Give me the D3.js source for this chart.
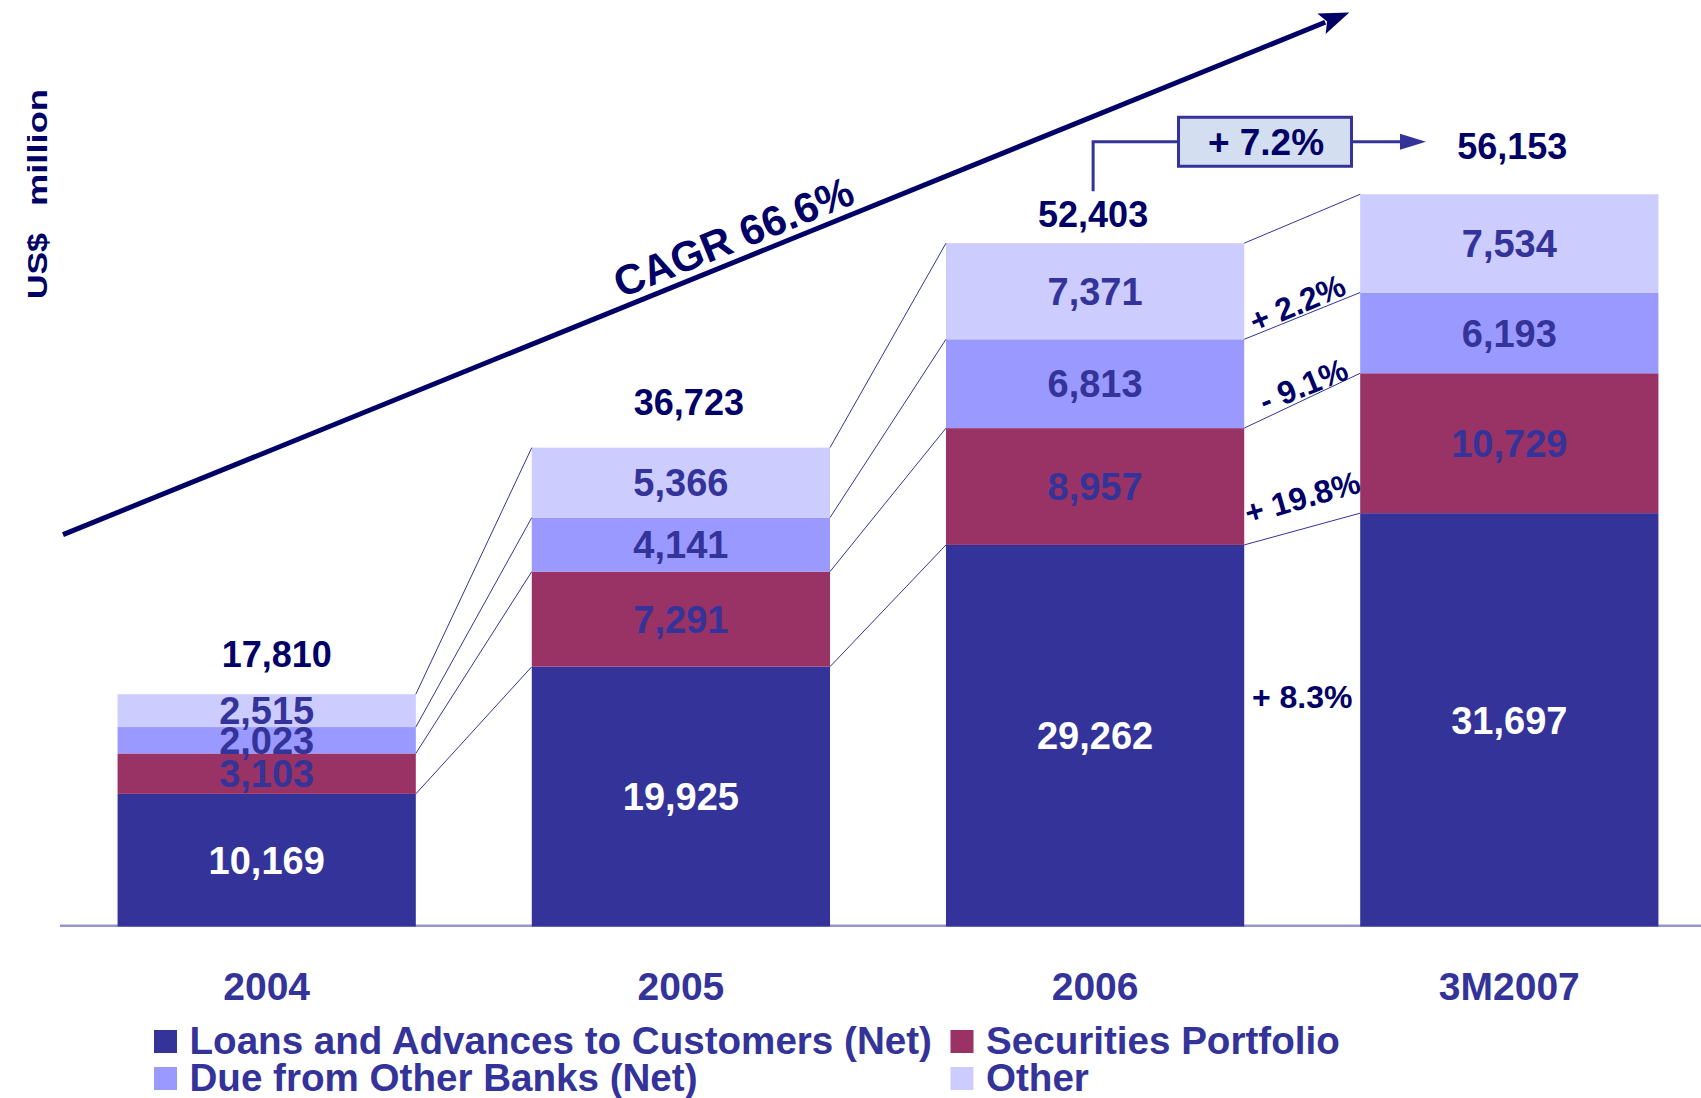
<!DOCTYPE html>
<html>
<head>
<meta charset="utf-8">
<script src="https://cdn.jsdelivr.net/npm/d3@7"></script>
<style>
  html, body { margin: 0; padding: 0; background: #ffffff; }
  svg { display: block; }
  text { font-family: "Liberation Sans", Arial, sans-serif; font-weight: bold; }
</style>
</head>
<body>
<svg id="chart" width="1701" height="1098"></svg>
<script>
// ---- data (US$ million) ----
const categories   = ["2004", "2005", "2006", "3M2007"];
const loans        = [10169, 19925, 29262, 31697];
const securities   = [3103, 7291, 8957, 10729];
const dueFromBanks = [2023, 4141, 6813, 6193];
const other        = [2515, 5366, 7371, 7534];
const totals       = [17810, 36723, 52403, 56153];

const seriesNames  = ["Loans and Advances to Customers (Net)", "Securities Portfolio",
                      "Due from Other Banks (Net)", "Other"];
// change of each component from 2006 to 3M2007, bottom to top
const componentGrowth = ["+ 8.3%", "+ 19.8%", "- 9.1%", "+ 2.2%"];
const totalGrowth  = "+ 7.2%";
const cagrLabel    = "CAGR 66.6%";
const yAxisWords   = ["US$", "million"];

// ---- styling ----
const fills      = ["#333399", "#993366", "#9999FF", "#CCCCFF"];
const labelFills = ["#ffffff", "#333399", "#333399", "#333399"];
const navy = "#000066";
const blue = "#333399";

const svg = d3.select("#chart");
const W = 1701;

const x = d3.scaleBand()
  .domain(categories)
  .range([60, 1716])
  .paddingInner(0.28)
  .paddingOuter(0.139);

const y = d3.scaleLinear()
  .domain([0, 60000])
  .range([926.5, 144.1]);

// stacked layout
const rows = categories.map((c, i) => ({
  cat: c, loans: loans[i], securities: securities[i],
  due: dueFromBanks[i], other: other[i]
}));
const keys = ["loans", "securities", "due", "other"];
const stacked = d3.stack().keys(keys)(rows);

// baseline
svg.append("line")
  .attr("x1", 60).attr("x2", W)
  .attr("y1", y(0) - 0.8).attr("y2", y(0) - 0.8)
  .attr("stroke", "#9696cc").attr("stroke-width", 2.6);

// bars
const layers = svg.append("g").selectAll("g")
  .data(stacked).join("g")
  .attr("fill", (d, i) => fills[i]);

layers.selectAll("rect")
  .data(d => d).join("rect")
  .attr("x", d => x(d.data.cat))
  .attr("y", d => y(d[1]))
  .attr("width", x.bandwidth())
  .attr("height", d => y(d[0]) - y(d[1]));

// connector lines between neighbouring bars at each segment top
const conn = svg.append("g").attr("stroke", blue).attr("stroke-width", 1).attr("fill", "none");
stacked.forEach(layer => {
  for (let i = 0; i < categories.length - 1; i++) {
    conn.append("line")
      .attr("x1", x(categories[i]) + x.bandwidth())
      .attr("y1", y(layer[i][1]))
      .attr("x2", x(categories[i + 1]))
      .attr("y2", y(layer[i + 1][1]));
  }
});

// segment value labels
const fmt = d3.format(",");
stacked.forEach((layer, k) => {
  svg.append("g").selectAll("text")
    .data(layer).join("text")
    .attr("x", d => x(d.data.cat) + x.bandwidth() / 2)
    .attr("y", d => (y(d[0]) + y(d[1])) / 2)
    .attr("dy", "0.36em")
    .attr("text-anchor", "middle")
    .attr("font-size", 38)
    .attr("fill", labelFills[k])
    .text(d => fmt(d[1] - d[0]));
});

// totals above the bars
const totalOffset = [[10, -27], [8, -33], [-2, -16], [3, -35]];
svg.append("g").selectAll("text")
  .data(totals).join("text")
  .attr("x", (d, i) => x(categories[i]) + x.bandwidth() / 2 + totalOffset[i][0])
  .attr("y", (d, i) => y(d) + totalOffset[i][1])
  .attr("text-anchor", "middle")
  .attr("font-size", 36)
  .attr("fill", navy)
  .text(d => fmt(d));

// category labels
svg.append("g").selectAll("text")
  .data(categories).join("text")
  .attr("x", d => x(d) + x.bandwidth() / 2)
  .attr("y", 999.5)
  .attr("text-anchor", "middle")
  .attr("font-size", 39)
  .attr("fill", blue)
  .text(d => d);

// component growth labels between 2006 and 3M2007
const iA = 2, iB = 3;
const gapX = (x(categories[iA]) + x.bandwidth() + x(categories[iB])) / 2;
const growthAngle = [0, -16, -22, -23];
const growthShift = [-31, -32, -16, -13];
const growthDx = [0, 0, 1, -5];
componentGrowth.forEach((g, k) => {
  let cy;
  if (k === 0) {
    const a = (y(stacked[0][iA][0]) + y(stacked[0][iA][1])) / 2;
    const b = (y(stacked[0][iB][0]) + y(stacked[0][iB][1])) / 2;
    cy = (a + b) / 2;
  } else {
    cy = (y(stacked[k - 1][iA][1]) + y(stacked[k - 1][iB][1])) / 2;
  }
  cy += growthShift[k];
  svg.append("text")
    .attr("transform", `translate(${gapX + growthDx[k]},${cy}) rotate(${growthAngle[k]})`)
    .attr("text-anchor", "middle")
    .attr("dy", "0.36em")
    .attr("font-size", 32)
    .attr("fill", navy)
    .style("white-space", "pre")
    .text(g);
});

// total growth callout: bracket from 2006 total to 3M2007 total
const cx06 = x(categories[iA]) + x.bandwidth() / 2 - 2;
const boxY = y(totals[iB]) - 52.5;
const boxX0 = 1178.5, boxX1 = 1351.5, boxH = 49;
svg.append("path")
  .attr("d", `M${cx06},${y(totals[iA]) - 52} V${boxY} H${boxX0}`)
  .attr("fill", "none").attr("stroke", blue).attr("stroke-width", 3);
svg.append("line")
  .attr("x1", boxX1).attr("x2", 1402)
  .attr("y1", boxY).attr("y2", boxY)
  .attr("stroke", blue).attr("stroke-width", 3);
svg.append("path")
  .attr("d", `M1400,${boxY - 8} L1426,${boxY} L1400,${boxY + 8} Z`)
  .attr("fill", blue);
svg.append("rect")
  .attr("x", boxX0).attr("y", boxY - boxH / 2)
  .attr("width", boxX1 - boxX0).attr("height", boxH)
  .attr("fill", "#d3def0").attr("stroke", blue).attr("stroke-width", 3);
svg.append("text")
  .attr("x", (boxX0 + boxX1) / 2 + 1)
  .attr("y", boxY)
  .attr("dy", "0.36em")
  .attr("text-anchor", "middle")
  .attr("font-size", 37)
  .attr("fill", navy)
  .style("white-space", "pre")
  .text(totalGrowth);

// CAGR trend arrow
const a0 = [63, 534.6], a1 = [1349.3, 12.5];
const ang = Math.atan2(a1[1] - a0[1], a1[0] - a0[0]);
const deg = ang * 180 / Math.PI;
const headLen = 30, headHalf = 11;
const ux = Math.cos(ang), uy = Math.sin(ang);
const bx = a1[0] - ux * headLen, by = a1[1] - uy * headLen;
svg.append("line")
  .attr("x1", a0[0]).attr("y1", a0[1])
  .attr("x2", bx + ux * 4).attr("y2", by + uy * 4)
  .attr("stroke", navy).attr("stroke-width", 5);
svg.append("path")
  .attr("d", `M${a1[0]},${a1[1]} L${bx - uy * headHalf},${by + ux * headHalf} L${bx + ux * 6},${by + uy * 6} L${bx + uy * headHalf},${by - ux * headHalf} Z`)
  .attr("fill", navy);

// CAGR text sitting on the arrow
const tAlong = 606;
svg.append("text")
  .attr("transform", `translate(${a0[0] + ux * tAlong},${a0[1] + uy * tAlong}) rotate(${deg})`)
  .attr("y", -9)
  .attr("font-size", 42)
  .attr("fill", navy)
  .text(cagrLabel);

// y-axis title: two words in a wide bold face, read bottom to top
const yTitleRuns = [[299, 66], [206, 117]];   // [start y, run length]
yAxisWords.forEach((w, i) => {
  svg.append("text")
    .attr("transform", `translate(47,${yTitleRuns[i][0]}) rotate(-90)`)
    .attr("font-size", 28.5)
    .attr("textLength", yTitleRuns[i][1])
    .attr("lengthAdjust", "spacingAndGlyphs")
    .attr("fill", navy)
    .text(w);
});

// legend
const legendPos = [[154, 1030], [950.5, 1030], [154, 1067], [950.5, 1067]];
const legend = svg.append("g").selectAll("g")
  .data(seriesNames).join("g")
  .attr("transform", (d, i) => `translate(${legendPos[i][0]},${legendPos[i][1]})`);
legend.append("rect")
  .attr("width", 23).attr("height", 23)
  .attr("fill", (d, i) => fills[i]);
legend.append("text")
  .attr("x", 35.5).attr("y", 23.5)
  .attr("font-size", 38.6)
  .attr("fill", blue)
  .text(d => d);
</script>
</body>
</html>
